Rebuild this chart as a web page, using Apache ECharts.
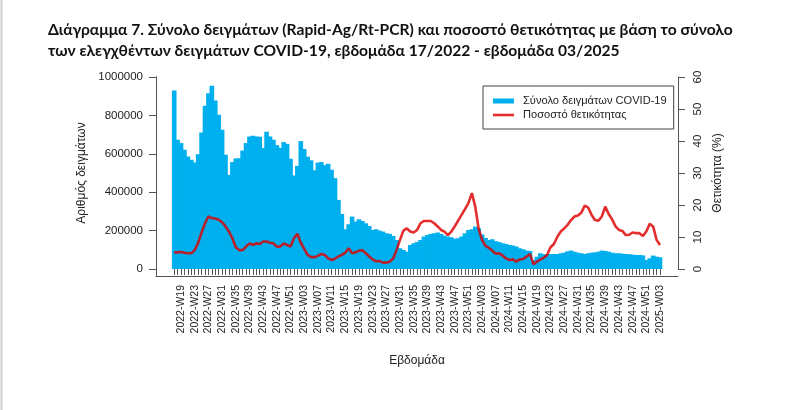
<!DOCTYPE html>
<html>
<head>
<meta charset="utf-8">
<script src="https://cdn.jsdelivr.net/npm/echarts@6/dist/echarts.min.js"></script>
<style>
html,body{margin:0;padding:0;background:#fff;}
#chart{width:800px;height:410px;}
</style>
</head>
<body>
<div id="chart"></div>
<script>
const titleText = "Διάγραμμα 7. Σύνολο δειγμάτων (Rapid-Ag/Rt-PCR) και ποσοστό θετικότητας με βάση το σύνολο\nτων ελεγχθέντων δειγμάτων COVID-19, εβδομάδα 17/2022 - εβδομάδα 03/2025";
const seriesBarName = "Σύνολο δειγμάτων COVID-19";
const seriesLineName = "Ποσοστό θετικότητας";
const leftAxisName = "Αριθμός δειγμάτων";
const rightAxisName = "Θετικότητα (%)";
const xAxisName = "Εβδομάδα";

const categories = [
"2022-W17","2022-W18","2022-W19","2022-W20","2022-W21","2022-W22","2022-W23","2022-W24","2022-W25","2022-W26",
"2022-W27","2022-W28","2022-W29","2022-W30","2022-W31","2022-W32","2022-W33","2022-W34","2022-W35","2022-W36",
"2022-W37","2022-W38","2022-W39","2022-W40","2022-W41","2022-W42","2022-W43","2022-W44","2022-W45","2022-W46",
"2022-W47","2022-W48","2022-W49","2022-W50","2022-W51","2022-W52",
"2023-W01","2023-W02","2023-W03","2023-W04","2023-W05","2023-W06","2023-W07","2023-W08","2023-W09","2023-W10",
"2023-W11","2023-W12","2023-W13","2023-W14","2023-W15","2023-W16","2023-W17","2023-W18","2023-W19","2023-W20",
"2023-W21","2023-W22","2023-W23","2023-W24","2023-W25","2023-W26","2023-W27","2023-W28","2023-W29","2023-W30",
"2023-W31","2023-W32","2023-W33","2023-W34","2023-W35","2023-W36","2023-W37","2023-W38","2023-W39","2023-W40",
"2023-W41","2023-W42","2023-W43","2023-W44","2023-W45","2023-W46","2023-W47","2023-W48","2023-W49","2023-W50",
"2023-W51","2023-W52",
"2024-W01","2024-W02","2024-W03","2024-W04","2024-W05","2024-W06","2024-W07","2024-W08","2024-W09","2024-W10",
"2024-W11","2024-W12","2024-W13","2024-W14","2024-W15","2024-W16","2024-W17","2024-W18","2024-W19","2024-W20",
"2024-W21","2024-W22","2024-W23","2024-W24","2024-W25","2024-W26","2024-W27","2024-W28","2024-W29","2024-W30",
"2024-W31","2024-W32","2024-W33","2024-W34","2024-W35","2024-W36","2024-W37","2024-W38","2024-W39","2024-W40",
"2024-W41","2024-W42","2024-W43","2024-W44","2024-W45","2024-W46","2024-W47","2024-W48","2024-W49","2024-W50",
"2024-W51","2024-W52",
"2025-W01","2025-W02","2025-W03"
];

const samples = [
930000,673000,656000,621000,586000,569000,555000,598000,711000,850000,
916000,955000,878000,803000,725000,595000,490000,557000,576000,577000,
617000,656000,690000,694000,690000,689000,630000,715000,690000,673000,
645000,631000,661000,652000,574000,487000,
537000,666000,625000,585000,566000,514000,554000,557000,541000,548000,
517000,473000,360000,287000,207000,233000,273000,247000,259000,250000,
238000,224000,203000,207000,200000,195000,186000,183000,172000,151000,
108000,99000,90000,125000,134000,141000,151000,169000,177000,183000,
186000,190000,183000,174000,169000,165000,158000,160000,169000,186000,
203000,207000,
221000,212000,180000,162000,151000,155000,145000,140000,134000,130000,
125000,122000,117000,108000,103000,96000,94000,47000,64000,82000,
77000,77000,78000,78000,78000,82000,85000,92000,96000,90000,
85000,82000,78000,82000,85000,87000,90000,96000,94000,90000,
85000,82000,82000,80000,78000,77000,75000,73000,73000,71000,
47000,56000,
70000,64000,61000
];

const positivity = [
5.2,5.2,5.3,5.1,4.9,4.9,5.9,8.2,11.4,14.3,
16.4,15.9,15.8,15.4,14.6,13.3,11.7,9.6,6.8,5.9,
5.9,7.0,8.0,7.5,8.0,7.8,8.6,8.6,8.2,8.0,
7.0,7.0,8.0,7.5,7.0,9.6,
11.0,8.2,6.3,4.4,3.7,3.7,4.1,4.7,4.4,3.3,
2.8,3.2,3.9,4.4,5.1,6.5,4.9,5.2,5.7,5.9,
4.9,3.9,3.0,2.4,2.5,2.0,2.0,2.3,3.3,5.9,
9.1,12.0,12.7,11.7,11.4,12.2,14.3,15.0,15.0,15.0,
14.3,13.3,12.2,11.7,10.6,11.7,13.3,15.1,16.9,18.7,
20.6,23.7,
19.5,12.5,9.0,7.2,6.6,5.7,4.8,4.9,4.2,3.3,
2.8,3.0,2.3,3.0,3.1,3.9,4.7,1.5,2.3,2.9,
3.5,4.4,6.8,7.8,10.1,11.7,12.7,13.8,15.3,16.4,
16.7,17.6,19.8,19.2,16.9,15.3,15.1,16.4,19.5,17.2,
15.5,13.3,12.2,11.9,10.6,10.7,11.4,11.2,11.2,10.3,
11.7,14.1,
13.3,9.1,7.5
];

const leftTicks = [0,200000,400000,600000,800000,1000000];
const rightTicks = [0,10,20,30,40,50,60];

const barColor = '#00b0ee';
const lineColor = 'rgba(222,0,0,0.82)';
const axisColor = '#555';
const textColor = '#222';
const font = 'Liberation Sans, Arial, sans-serif';

const barData = samples.map(function(v, i){ return [i, v]; });

function renderBar(params, api) {
  const idx = api.value(0);
  const top = api.coord([idx, api.value(1)]);
  const base = api.coord([idx, 0]);
  const w = api.size([1, 0])[0];
  return {
    type:'rect',
    shape:{x: top[0] - w/2 - 0.6, y: top[1], width: w + 1.2, height: base[1] - top[1]},
    style:{fill: barColor, stroke: null}
  };
}

const noSplit = {splitLine:{show:false}, splitArea:{show:false}, minorSplitLine:{show:false}};

const chart = echarts.init(document.getElementById('chart'), null, {renderer:'canvas'});
chart.setOption({
  animation:false,
  backgroundColor:'#fff',
  title:{
    text:titleText, left:43, top:14,
    textStyle:{fontFamily:'Lato', fontWeight:'bold', fontSize:15.6, lineHeight:21, color:'#111'}
  },
  graphic:[
    {type:'line', shape:{x1:1.5,y1:0,x2:1.5,y2:410}, style:{stroke:'#cfcfcf', lineWidth:2}, silent:true}
  ],
  legend:{
    orient:'vertical', left:483, top:86,
    padding:[8,7,7,10], itemGap:0, itemWidth:21, itemHeight:5,
    backgroundColor:'#fff', borderColor:'#444', borderWidth:1, borderRadius:0,
    textStyle:{fontFamily:font, fontSize:11.1, color:textColor, lineHeight:14, padding:[0,0,0,4]},
    data:[
      {name:seriesBarName, icon:'path://M0 0H21V5H0Z', itemStyle:{color:barColor}},
      {name:seriesLineName, icon:'path://M0 0H21V2.6H0Z', itemStyle:{color:lineColor}}
    ]
  },
  grid:[
    {left:172.5, right:138.3, top:77, bottom:141, containLabel:false, show:false},
    {left:156, right:122, top:77, bottom:134, containLabel:false, show:false}
  ],
  xAxis:[
    Object.assign({
      type:'category', gridIndex:0, data:categories, offset:7,
      boundaryGap:true,
      axisLine:{show:false},
      axisTick:{show:true, interval:0, alignWithLabel:true, length:6, lineStyle:{color:axisColor, width:1}},
      axisLabel:{
        interval:function(i){return i % 4 === 2;},
        rotate:90, fontFamily:font, fontSize:10.5, color:textColor, margin:9
      }
    }, noSplit),
    Object.assign({
      type:'value', gridIndex:1, min:0, max:1,
      name:xAxisName, nameLocation:'middle', nameGap:79,
      nameTextStyle:{fontFamily:font, fontSize:12, color:textColor},
      axisLine:{show:true, lineStyle:{color:axisColor, width:1}},
      axisTick:{show:false}, axisLabel:{show:false}
    }, noSplit)
  ],
  yAxis:[
    Object.assign({
      type:'value', gridIndex:0, position:'left', offset:16.5,
      min:0, max:1000000, interval:200000,
      name:leftAxisName, nameLocation:'middle', nameGap:66, nameRotate:90,
      nameTextStyle:{fontFamily:font, fontSize:12, color:textColor},
      axisLine:{show:true, lineStyle:{color:axisColor, width:1}},
      axisTick:{show:true, length:7, lineStyle:{color:axisColor}},
      axisLabel:{fontFamily:font, fontSize:11.5, color:textColor, margin:13,
        formatter:function(v){return String(v);}}
    }, noSplit),
    Object.assign({
      type:'value', gridIndex:0, position:'right', offset:16.3,
      min:0, max:60, interval:10,
      name:rightAxisName, nameLocation:'middle', nameGap:30, nameRotate:90,
      nameTextStyle:{fontFamily:font, fontSize:12, color:textColor},
      axisLine:{show:true, lineStyle:{color:axisColor, width:1}},
      axisTick:{show:true, length:7, lineStyle:{color:axisColor}},
      axisLabel:{fontFamily:font, fontSize:11.5, color:textColor, rotate:90, margin:14}
    }, noSplit),
    Object.assign({
      type:'value', gridIndex:1, position:'left', min:0, max:1,
      axisLine:{show:true, lineStyle:{color:axisColor, width:1}},
      axisTick:{show:false}, axisLabel:{show:false}
    }, noSplit)
  ],
  series:[
    {
      name:seriesBarName, type:'custom', xAxisIndex:0, yAxisIndex:0,
      data:barData, renderItem:renderBar, encode:{x:0, y:1},
      itemStyle:{color:barColor}, color:barColor
    },
    {
      name:seriesLineName, type:'line', xAxisIndex:0, yAxisIndex:1,
      data:positivity, symbol:'none', showSymbol:false, smooth:false,
      lineStyle:{color:lineColor, width:2.6}, itemStyle:{color:lineColor}, color:lineColor
    }
  ]
});
</script>
</body>
</html>
